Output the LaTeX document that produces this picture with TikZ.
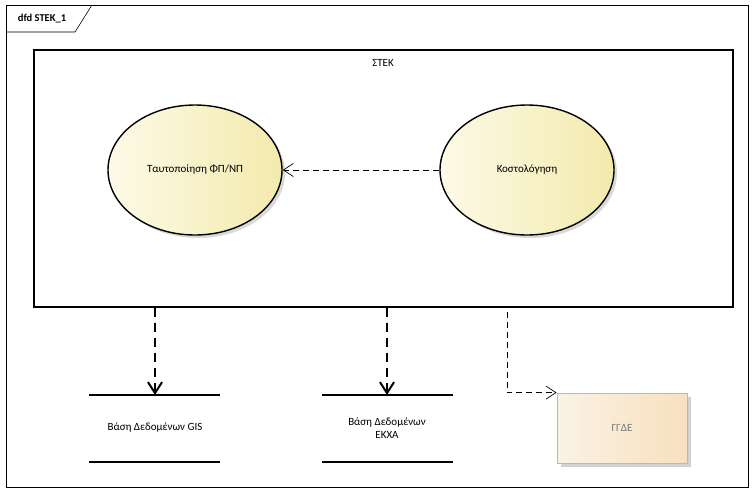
\documentclass[tikz,border=0pt]{standalone}
\usepackage{fontspec}
\setmainfont{Carlito}
\usetikzlibrary{arrows.meta,shapes.geometric,shadows}
\definecolor{ellL}{RGB}{253,250,232}
\definecolor{ellR}{RGB}{243,234,172}
\definecolor{boxL}{RGB}{250,242,230}
\definecolor{boxR}{RGB}{247,224,190}
\definecolor{boxD}{RGB}{185,185,185}
\definecolor{txtG}{RGB}{120,120,120}
\begin{document}
\begin{tikzpicture}[x=1pt,y=-1pt,
  lbl/.style={font=\fontsize{11}{13}\selectfont, align=center},
  proc/.style={ellipse, draw, line width=1.4pt, minimum width=174pt, minimum height=130pt,
    left color=ellL, right color=ellR, lbl,
    drop shadow={shadow xshift=3pt, shadow yshift=-3pt, fill=black!15, opacity=1}},
  ext/.style={rectangle, draw=boxD, line width=0.8pt, minimum width=130pt, minimum height=70pt,
    left color=boxL, right color=boxR, lbl, text=txtG,
    drop shadow={shadow xshift=4pt, shadow yshift=-4pt, fill=black!18, opacity=1}},
  flowthick/.style={line width=2pt, dash pattern=on 9pt off 6pt,
    -{Straight Barb[length=11pt,width=14pt,line width=2pt]}},
  flowthin/.style={line width=0.7pt, dash pattern=on 6pt off 4pt,
    -{Straight Barb[length=10pt,width=13pt,line width=0.7pt]}},
  storeline/.style={line width=1.6pt}
]
\useasboundingbox (0,0) rectangle (755,491);
% frame
\draw[line width=0.6pt] (6,5) rectangle (748,487);
\draw[line width=0.6pt] (6,32) -- (75,32) -- (92,5);
\node[font=\bfseries\fontsize{10.5}{12.6}\selectfont] (title) at (42,19) {dfd STEK\_1};
% system boundary
\node[draw, line width=1.2pt, minimum width=699pt, minimum height=257pt] (stek) at (383.5,178.5) {};
\node[lbl, anchor=north] (stekl) at (383,56) {ΣΤΕΚ};
% processes
\node[proc] (p1) at (195,170) {Ταυτοποίηση ΦΠ/ΝΠ};
\node[proc] (p2) at (527,170) {Κοστολόγηση};
\draw[flowthin] (p2) -- (p1);
% data stores
\coordinate (gisT) at (155,395);
\coordinate (gisTL) at (89,395); \coordinate (gisTR) at (220,395);
\coordinate (gisBL) at (89,462); \coordinate (gisBR) at (220,462);
\draw[storeline] (gisTL) -- (gisTR);
\draw[storeline] (gisBL) -- (gisBR);
\node[lbl] (gis) at (155,428) {Βάση Δεδομένων GIS};
\coordinate (ekxT) at (387,395);
\coordinate (ekxTL) at (322,395); \coordinate (ekxTR) at (453,395);
\coordinate (ekxBL) at (322,462); \coordinate (ekxBR) at (453,462);
\draw[storeline] (ekxTL) -- (ekxTR);
\draw[storeline] (ekxBL) -- (ekxBR);
\node[lbl] (ekx) at (387,428) {Βάση Δεδομένων\\ΕΚΧΑ};
% external
\node[ext] (gg) at (622,428) {ΓΓΔΕ};
% flows
\draw[flowthick] (stek.south -| gisT) -- (gisT);
\draw[flowthick] (stek.south -| ekxT) -- (ekxT);
\coordinate (c1) at (507,312);
\draw[flowthin] (c1) |- (gg.north west);
\end{tikzpicture}
\end{document}
